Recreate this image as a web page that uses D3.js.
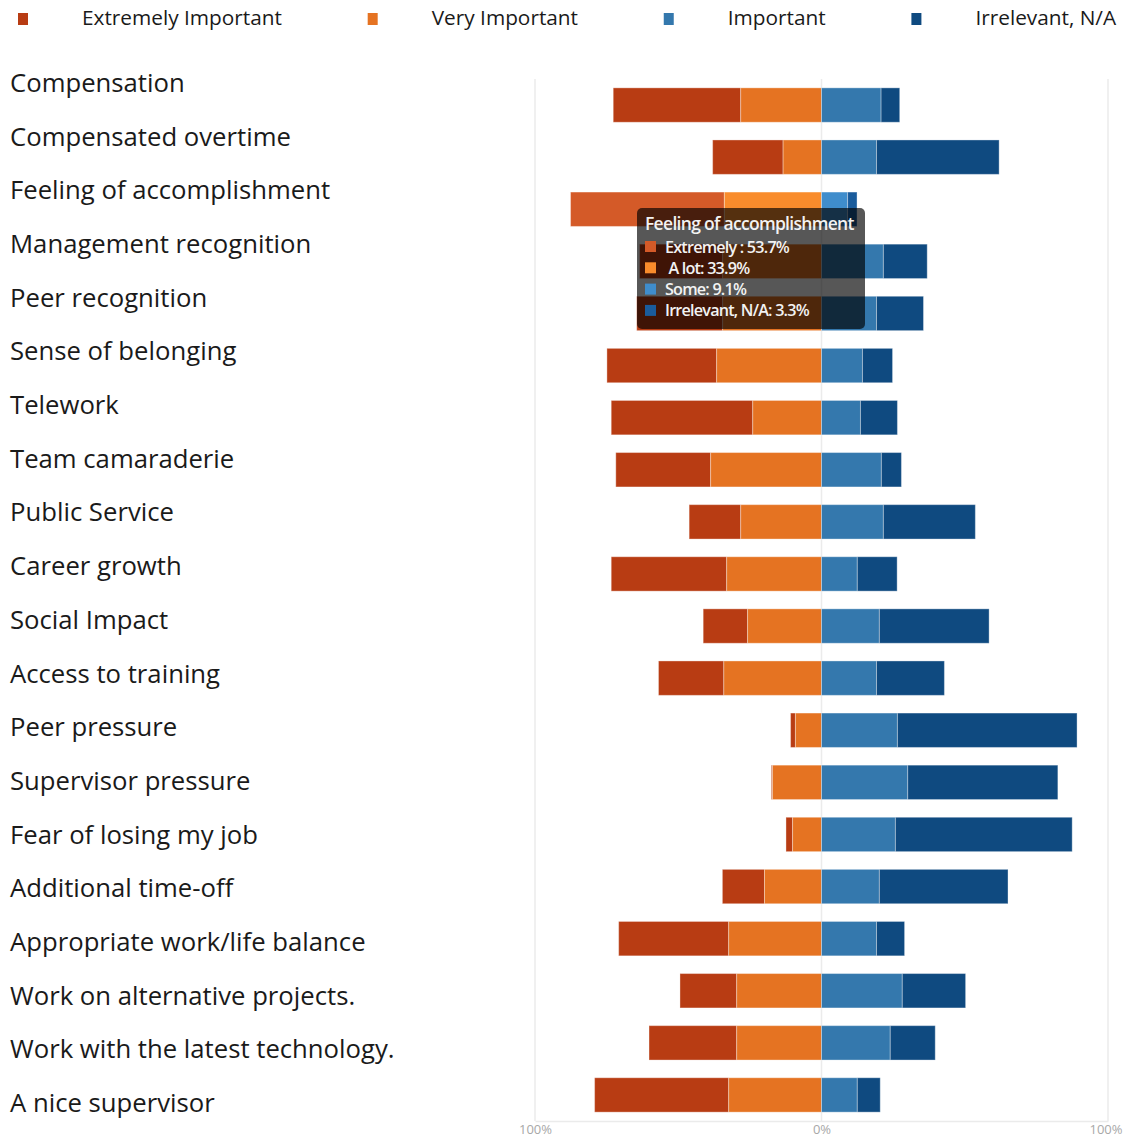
<!DOCTYPE html>
<html>
<head>
<meta charset="utf-8">
<script src="https://cdn.jsdelivr.net/npm/d3@7"></script>
<style>
  body { margin: 0; background: #fff; }
  svg { display: block; }
</style>
</head>
<body>
<div id="chart"></div>
<script>
// Categories (top to bottom)
const categories = [
  "Compensation", "Compensated overtime", "Feeling of accomplishment",
  "Management recognition", "Peer recognition", "Sense of belonging",
  "Telework", "Team camaraderie", "Public Service", "Career growth",
  "Social Impact", "Access to training", "Peer pressure",
  "Supervisor pressure", "Fear of losing my job", "Additional time-off",
  "Appropriate work/life balance", "Work on alternative projects.",
  "Work with the latest technology.", "A nice supervisor"
];

// Series values (%)
const extremely  = [44.5, 24.6, 53.7, 29.0, 30.0, 38.3, 49.4, 33.1, 18.0, 40.3, 15.5, 22.8, 1.7, 0.4, 2.3, 14.7, 38.4, 19.8, 30.6, 46.8];
const aLot       = [28.2, 13.4, 33.9, 34.5, 34.5, 36.6, 24.0, 38.7, 28.2, 33.1, 25.8, 34.1, 9.1, 17.1, 10.1, 19.9, 32.4, 29.6, 29.6, 32.4];
const some       = [20.8, 19.2, 9.1, 21.6, 19.2, 14.3, 13.6, 20.9, 21.6, 12.5, 20.2, 19.2, 26.5, 30.1, 25.8, 20.2, 19.2, 28.2, 24.0, 12.5];
const irrelevant = [6.5, 42.8, 3.3, 15.3, 16.4, 10.5, 12.9, 7.0, 32.1, 13.9, 38.3, 23.7, 62.7, 52.4, 61.7, 44.9, 9.8, 22.1, 15.7, 8.0];

const legendLabels  = ["Extremely Important", "Very Important", "Important", "Irrelevant, N/A"];
const tooltipLabels = ["Extremely : ", "\u00a0A lot: ", "Some: ", "Irrelevant, N/A: "];
const tickValues = [-100, 0, 100];

const colors      = ["#b83c13", "#e57322", "#3478ad", "#0f4a80"];
const hoverColors = ["#d45a28", "#f98c2c", "#3f8dcc", "#1a5c9c"];
const highlighted = "Feeling of accomplishment";

const W = 1123, H = 1137;
const svg = d3.select("#chart").append("svg")
  .attr("width", W).attr("height", H);

// scales
const x = d3.scaleLinear().domain([-100, 100]).range([535, 1108]);
const y = d3.scaleBand().domain(categories).range([79, 1121])
  .paddingInner(0.34).paddingOuter(0.17);
const yLabel = d3.scalePoint().domain(categories).range([92, 1112]);

// gridlines
svg.append("g")
  .selectAll("line")
  .data(tickValues)
  .join("line")
    .attr("x1", d => x(d)).attr("x2", d => x(d))
    .attr("y1", 79).attr("y2", 1121)
    .attr("stroke", "#ebebeb").attr("stroke-width", 1.5);

// x axis
const xAxis = svg.append("g")
  .attr("transform", "translate(0,1121)")
  .call(d3.axisBottom(x).tickValues(tickValues).tickSize(0).tickPadding(4)
    .tickFormat(d => Math.abs(d) + "%"));
xAxis.select(".domain").attr("stroke", "#ebebeb").attr("stroke-width", 1.5);
xAxis.selectAll("text")
  .attr("font-family", "Open Sans").attr("font-size", 13).attr("fill", "#a8a8a8");
// last label sits at the page edge: keep it inside
xAxis.selectAll(".tick").filter(d => d === 100).select("text")
  .attr("text-anchor", "end").attr("x", W - 1 - x(100));

// rows -> segments
const rows = categories.map((c, i) => ({
  cat: c,
  segs: [
    { k: 0, x0: -(aLot[i] + extremely[i]), x1: -aLot[i], v: extremely[i] },
    { k: 1, x0: -aLot[i], x1: 0, v: aLot[i] },
    { k: 2, x0: 0, x1: some[i], v: some[i] },
    { k: 3, x0: some[i], x1: some[i] + irrelevant[i], v: irrelevant[i] }
  ]
}));

const rowG = svg.append("g").selectAll("g")
  .data(rows)
  .join("g")
    .attr("transform", d => `translate(0,${y(d.cat)})`);

rowG.selectAll("rect")
  .data(d => d.segs.map(s => ({ ...s, cat: d.cat })))
  .join("rect")
    .attr("x", d => x(d.x0))
    .attr("width", d => x(d.x1) - x(d.x0))
    .attr("height", y.bandwidth())
    .attr("fill", d => d.cat === highlighted ? hoverColors[d.k] : colors[d.k])
    .attr("stroke", "#fff").attr("stroke-opacity", 0.35).attr("stroke-width", 1);

// category labels (left list)
svg.append("g").selectAll("text")
  .data(categories)
  .join("text")
    .attr("x", 10)
    .attr("y", d => yLabel(d))
    .attr("font-family", "Open Sans")
    .attr("font-size", 25.7)
    .attr("fill", "#1a1a1a")
    .text(d => d);

// legend (spread across top)
const legend = svg.append("g");
const items = legend.selectAll("g")
  .data(legendLabels)
  .join("g");
items.append("rect")
  .attr("y", 13).attr("width", 10).attr("height", 12)
  .attr("fill", (d, i) => colors[i]);
items.append("text")
  .attr("x", 64).attr("y", 25)
  .attr("font-family", "Open Sans").attr("font-size", 20.8).attr("fill", "#1a1a1a")
  .text(d => d);
// space-between layout
const widths = [];
items.each(function() { widths.push(this.getBBox().width); });
const left = 18, right = 1117;
const gap = (right - left - d3.sum(widths)) / (widths.length - 1);
let cx = left;
items.attr("transform", (d, i) => {
  const t = `translate(${cx},0)`;
  cx += widths[i] + gap;
  return t;
});

// tooltip for highlighted row
const hi = categories.indexOf(highlighted);
const tip = svg.append("g").attr("transform", "translate(637,208)");
tip.append("rect")
  .attr("width", 228).attr("height", 121).attr("rx", 5)
  .attr("fill", "#000").attr("fill-opacity", 0.66);
tip.append("text")
  .attr("x", 8).attr("y", 22)
  .attr("font-family", "Open Sans").attr("font-size", 17.5).attr("font-weight", 600)
  .attr("letter-spacing", -0.7).attr("fill", "#f2f2f2")
  .text(highlighted);
const tipVals = [extremely[hi], aLot[hi], some[hi], irrelevant[hi]];
const tipRows = tip.selectAll("g.r")
  .data(tooltipLabels)
  .join("g").attr("class", "r")
    .attr("transform", (d, i) => `translate(8,${33 + i * 21.3})`);
tipRows.append("rect")
  .attr("width", 11).attr("height", 11)
  .attr("fill", (d, i) => hoverColors[i]);
tipRows.append("text")
  .attr("x", 20).attr("y", 11.5)
  .attr("font-family", "Open Sans").attr("font-size", 16.2).attr("font-weight", 600)
  .attr("letter-spacing", -0.8).attr("fill", "#f2f2f2")
  .text((d, i) => d + tipVals[i].toFixed(1) + "%");
</script>
</body>
</html>
